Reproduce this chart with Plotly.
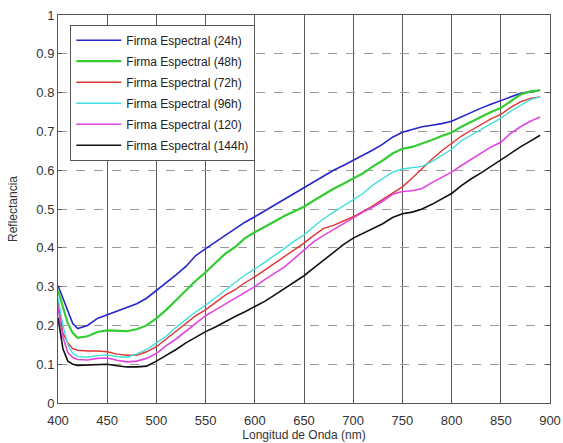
import plotly.graph_objects as go

wavelength = [400, 405, 410, 415, 420, 430, 440, 450, 460, 470, 480, 490, 500, 510, 520, 530, 540,
              550, 560, 570, 580, 590, 600, 610, 620, 630, 640, 650, 660, 670, 680, 690, 700, 710,
              720, 730, 740, 750, 760, 770, 780, 790, 800, 810, 820, 830, 840, 850, 860, 870, 880, 890]

firma_24h = [0.303, 0.270, 0.235, 0.205, 0.192, 0.200, 0.218, 0.228, 0.238, 0.247, 0.256, 0.270, 0.290,
             0.308, 0.330, 0.352, 0.380, 0.398, 0.415, 0.432, 0.448, 0.466, 0.480, 0.495, 0.510, 0.525,
             0.540, 0.553, 0.568, 0.585, 0.600, 0.612, 0.625, 0.638, 0.652, 0.667, 0.685, 0.698, 0.705,
             0.712, 0.716, 0.720, 0.726, 0.738, 0.750, 0.760, 0.770, 0.780, 0.790, 0.798, 0.802, 0.806]

firma_48h = [0.290, 0.245, 0.205, 0.180, 0.168, 0.172, 0.183, 0.187, 0.186, 0.185, 0.190, 0.200, 0.218,
             0.240, 0.265, 0.290, 0.315, 0.337, 0.360, 0.385, 0.402, 0.425, 0.440, 0.455, 0.468, 0.482,
             0.495, 0.506, 0.522, 0.538, 0.552, 0.565, 0.578, 0.592, 0.610, 0.625, 0.643, 0.655, 0.660,
             0.668, 0.678, 0.688, 0.697, 0.712, 0.725, 0.738, 0.750, 0.760, 0.778, 0.795, 0.803, 0.806]

firma_72h = [0.264, 0.180, 0.155, 0.140, 0.136, 0.134, 0.134, 0.132, 0.126, 0.123, 0.123, 0.132, 0.145,
             0.165, 0.185, 0.205, 0.225, 0.240, 0.258, 0.278, 0.292, 0.310, 0.325, 0.342, 0.360, 0.378,
             0.395, 0.412, 0.432, 0.450, 0.458, 0.468, 0.480, 0.494, 0.508, 0.525, 0.540, 0.557, 0.580,
             0.605, 0.628, 0.650, 0.670, 0.688, 0.703, 0.718, 0.732, 0.744, 0.762, 0.776, 0.785, 0.789]

firma_96h = [0.270, 0.200, 0.150, 0.128, 0.120, 0.118, 0.122, 0.124, 0.120, 0.118, 0.126, 0.138, 0.155,
             0.172, 0.195, 0.215, 0.235, 0.252, 0.272, 0.292, 0.312, 0.330, 0.345, 0.362, 0.380, 0.398,
             0.417, 0.433, 0.455, 0.475, 0.492, 0.508, 0.522, 0.540, 0.562, 0.578, 0.595, 0.603, 0.606,
             0.610, 0.622, 0.638, 0.654, 0.676, 0.690, 0.705, 0.720, 0.734, 0.752, 0.768, 0.782, 0.789]

firma_120 = [0.245, 0.170, 0.130, 0.117, 0.112, 0.111, 0.115, 0.116, 0.110, 0.106, 0.108, 0.115, 0.128,
             0.148, 0.165, 0.185, 0.205, 0.225, 0.240, 0.255, 0.268, 0.285, 0.300, 0.318, 0.335, 0.350,
             0.372, 0.395, 0.416, 0.432, 0.447, 0.462, 0.478, 0.492, 0.505, 0.520, 0.538, 0.545, 0.547,
             0.553, 0.568, 0.582, 0.595, 0.612, 0.628, 0.645, 0.660, 0.672, 0.695, 0.712, 0.726, 0.737]

firma_144h = [0.220, 0.140, 0.108, 0.100, 0.097, 0.098, 0.100, 0.100, 0.096, 0.093, 0.093, 0.095, 0.108,
              0.122, 0.138, 0.155, 0.170, 0.184, 0.196, 0.210, 0.223, 0.235, 0.248, 0.262, 0.278, 0.295,
              0.312, 0.328, 0.348, 0.368, 0.390, 0.408, 0.425, 0.437, 0.448, 0.462, 0.478, 0.488, 0.492,
              0.500, 0.512, 0.527, 0.540, 0.560, 0.578, 0.593, 0.610, 0.627, 0.645, 0.660, 0.675, 0.690]

series_names = ["Firma Espectral (24h)", "Firma Espectral (48h)", "Firma Espectral (72h)",
                "Firma Espectral (96h)", "Firma Espectral (120)", "Firma Espectral (144h)"]
series_values = [firma_24h, firma_48h, firma_72h, firma_96h, firma_120, firma_144h]
colors = ["#2626cc", "#33cc33", "#e03333", "#3fdede", "#e045e0", "#111111"]
widths = [1.6, 2.2, 1.4, 1.4, 1.6, 1.6]

x_ticks = [400, 450, 500, 550, 600, 650, 700, 750, 800, 850, 900]
y_ticks = [0, 0.1, 0.2, 0.3, 0.4, 0.5, 0.6, 0.7, 0.8, 0.9, 1]
y_tick_text = ["0", "0.1", "0.2", "0.3", "0.4", "0.5", "0.6", "0.7", "0.8", "0.9", "1"]

fig = go.Figure()
for i, (name, vals, c, w) in enumerate(zip(series_names, series_values, colors, widths)):
    fig.add_trace(go.Scatter(x=wavelength, y=vals, mode="lines", name=name,
                             legendgroup=f"g{i}",
                             line=dict(color=c, width=w)))

font_family = "Liberation Sans, Arial, sans-serif"
fig.update_layout(
    width=563, height=443,
    margin=dict(l=58, r=13, t=15, b=40),
    paper_bgcolor="white", plot_bgcolor="white",
    font=dict(family=font_family, size=12, color="#333333"),
    showlegend=True,
    legend=dict(x=0.025, y=0.975, xanchor="left", yanchor="top",
                bgcolor="white", bordercolor="#555555", borderwidth=1,
                font=dict(size=12, color="#222222"), itemwidth=45,
                tracegroupgap=2),
    xaxis=dict(range=[400, 900], tickvals=x_ticks, showgrid=True, gridcolor="#5a5a5a",
               gridwidth=1, showline=True, linecolor="#555555", mirror="ticks",
               ticks="inside", ticklen=4, tickcolor="#555555", zeroline=False,
               automargin=False, ticklabelstandoff=5,
               title=dict(text="Longitud de Onda (nm)", standoff=0, font=dict(size=12)),
               tickfont=dict(size=13)),
    yaxis=dict(range=[0, 1], tickvals=y_ticks, ticktext=y_tick_text, showgrid=True,
               gridcolor="#9a9a9a", griddash="dash", gridwidth=1, showline=True,
               linecolor="#555555", mirror="ticks", ticks="inside", ticklen=4,
               tickcolor="#555555", zeroline=False, automargin=False,
               title=dict(text="Reflectancia", standoff=16, font=dict(size=12)),
               tickfont=dict(size=13)),
)

fig.write_html("out.html", config={"displayModeBar": False},
               post_script="document.body.style.margin='0px';document.body.style.overflow='hidden';")
